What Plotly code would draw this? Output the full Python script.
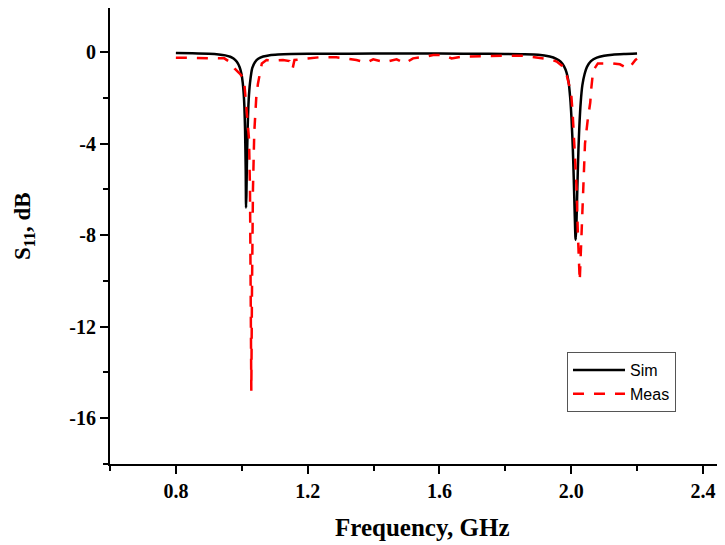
import plotly.graph_objects as go

# ---- data ----
sim_freq = [0.80, 0.85, 0.90, 0.93, 0.95, 0.965, 0.975, 0.985, 0.993, 0.999,
            1.003, 1.006, 1.008, 1.010, 1.012, 1.013, 1.014, 1.016, 1.018, 1.021,
            1.025, 1.032, 1.040, 1.050, 1.065, 1.085, 1.11, 1.15, 1.25, 1.40,
            1.60, 1.75, 1.85, 1.90, 1.935, 1.955, 1.968, 1.978, 1.986, 1.992,
            1.997, 2.001, 2.005, 2.008, 2.011, 2.013, 2.014, 2.016, 2.019, 2.022,
            2.025, 2.029, 2.034, 2.041, 2.048, 2.06, 2.078, 2.10, 2.125, 2.16, 2.20]
sim_s11 = [-0.05, -0.06, -0.08, -0.11, -0.15, -0.21, -0.29, -0.43, -0.65, -0.95,
           -1.35, -1.85, -2.4, -3.4, -5.2, -6.8, -6.3, -4.6, -3.3, -2.1,
           -1.35, -0.7, -0.45, -0.3, -0.2, -0.14, -0.11, -0.09, -0.08, -0.07,
           -0.07, -0.08, -0.1, -0.12, -0.2, -0.3, -0.42, -0.62, -0.9, -1.3,
           -2.0, -2.9, -4.2, -5.6, -7.2, -8.1, -8.2, -7.5, -5.8, -4.3,
           -3.2, -2.2, -1.45, -0.95, -0.65, -0.4, -0.25, -0.17, -0.12, -0.09, -0.07]

meas_freq = [0.80, 0.85, 0.90, 0.947, 0.965, 0.978, 0.993, 1.003, 1.008, 1.013,
             1.018, 1.022, 1.025, 1.027, 1.029, 1.031, 1.034, 1.038, 1.044, 1.049,
             1.054, 1.061, 1.075, 1.094, 1.125, 1.145, 1.154, 1.16, 1.187, 1.237,
             1.287, 1.318, 1.348, 1.379, 1.399, 1.434, 1.470, 1.495, 1.520, 1.561,
             1.581, 1.612, 1.637, 1.672, 1.733, 1.794, 1.855, 1.896, 1.936, 1.956,
             1.972, 1.985, 2.000, 2.005, 2.009, 2.016, 2.020, 2.023, 2.026, 2.030,
             2.035, 2.038, 2.042, 2.050, 2.056, 2.058, 2.061, 2.066, 2.071, 2.081,
             2.127, 2.148, 2.172, 2.183, 2.195, 2.20]
meas_s11 = [-0.25, -0.25, -0.26, -0.28, -0.45, -0.72, -0.93, -1.1, -1.4, -2.3,
            -3.0, -3.8, -6.0, -10.0, -14.8, -10.5, -6.0, -3.5, -2.0, -1.4,
            -1.08, -0.5, -0.35, -0.38, -0.35, -0.4, -0.75, -0.35, -0.31, -0.23,
            -0.23, -0.28, -0.35, -0.47, -0.32, -0.45, -0.32, -0.5, -0.28, -0.2,
            -0.13, -0.13, -0.28, -0.2, -0.17, -0.17, -0.17, -0.23, -0.32, -0.42,
            -0.6, -0.93, -1.8, -2.8, -4.0, -5.8, -7.8, -8.6, -10.0, -8.5,
            -6.5, -5.0, -4.0, -3.0, -2.4, -2.2, -1.6, -0.92, -0.72, -0.5,
            -0.5, -0.54, -0.72, -0.57, -0.35, -0.3]

x_tick_vals = [0.8, 1.2, 1.6, 2.0, 2.4]
x_tick_text = ["0.8", "1.2", "1.6", "2.0", "2.4"]
y_tick_vals = [0, -4, -8, -12, -16]
y_tick_text = ["0", "-4", "-8", "-12", "-16"]

serif = "Liberation Serif, Times New Roman, serif"
sans = "Liberation Sans, Arial, sans-serif"

fig = go.Figure()
fig.add_trace(go.Scatter(x=sim_freq, y=sim_s11, mode="lines", name="Sim",
                         line=dict(color="black", width=2.5, shape="spline", smoothing=0.6)))
fig.add_trace(go.Scatter(x=meas_freq, y=meas_s11, mode="lines", name="Meas",
                         line=dict(color="#ff0000", width=2.5, dash="11px,10px")))

# the page body has an 8px margin, so figure pixel = screen pixel - 8
OFF = 8
W, H = 725 - OFF, 545 - OFF
ml, mr, mt, mb = 110 - OFF, 0, 0, 81
pw, ph = W - ml - mr, H - mt - mb


def px_x(sx):
    return (sx - OFF - ml) / pw


def px_y(sy):
    return 1 - (sy - OFF - mt) / ph


fig.update_layout(
    width=W, height=H,
    margin=dict(l=ml, r=mr, t=mt, b=mb, autoexpand=False),
    paper_bgcolor="white", plot_bgcolor="white",
    showlegend=True,
    legend=dict(x=px_x(567), y=px_y(352),
                xanchor="left", yanchor="top",
                bordercolor="#555555", borderwidth=1, bgcolor="white",
                font=dict(family=sans, size=16, color="black"),
                tracegroupgap=0, itemwidth=52),
    xaxis=dict(range=[0.6, 2.467], showgrid=False, zeroline=False, automargin=False,
               showline=True, linecolor="black", linewidth=2,
               ticks="outside", ticklen=8, tickwidth=2, tickcolor="black",
               tickvals=x_tick_vals, ticktext=x_tick_text,
               minor=dict(dtick=0.2, tick0=0.6, ticks="outside", ticklen=5,
                          tickwidth=2, tickcolor="black"),
               tickfont=dict(family=serif, size=20, color="black", weight="bold")),
    yaxis=dict(range=[-18, 1.92], showgrid=False, zeroline=False, automargin=False,
               showline=True, linecolor="black", linewidth=2,
               ticks="outside", ticklen=8, tickwidth=2, tickcolor="black",
               tickvals=y_tick_vals, ticktext=y_tick_text,
               minor=dict(dtick=2, tick0=0, ticks="outside", ticklen=5,
                          tickwidth=2, tickcolor="black"),
               tickfont=dict(family=serif, size=20, color="black", weight="bold")),
    annotations=[
        dict(text="<b>S<sub>11</sub>, dB</b>", xref="paper", yref="paper",
             x=px_x(24), y=px_y(226), xanchor="center", yanchor="middle",
             textangle=-90, showarrow=False,
             font=dict(family=serif, size=23, color="black")),
        dict(text="<b>Frequency, GHz</b>", xref="paper", yref="paper",
             x=px_x(422), y=px_y(527), xanchor="center", yanchor="middle",
             showarrow=False,
             font=dict(family=serif, size=25, color="black")),
    ],
)

fig.write_html("out.html")
